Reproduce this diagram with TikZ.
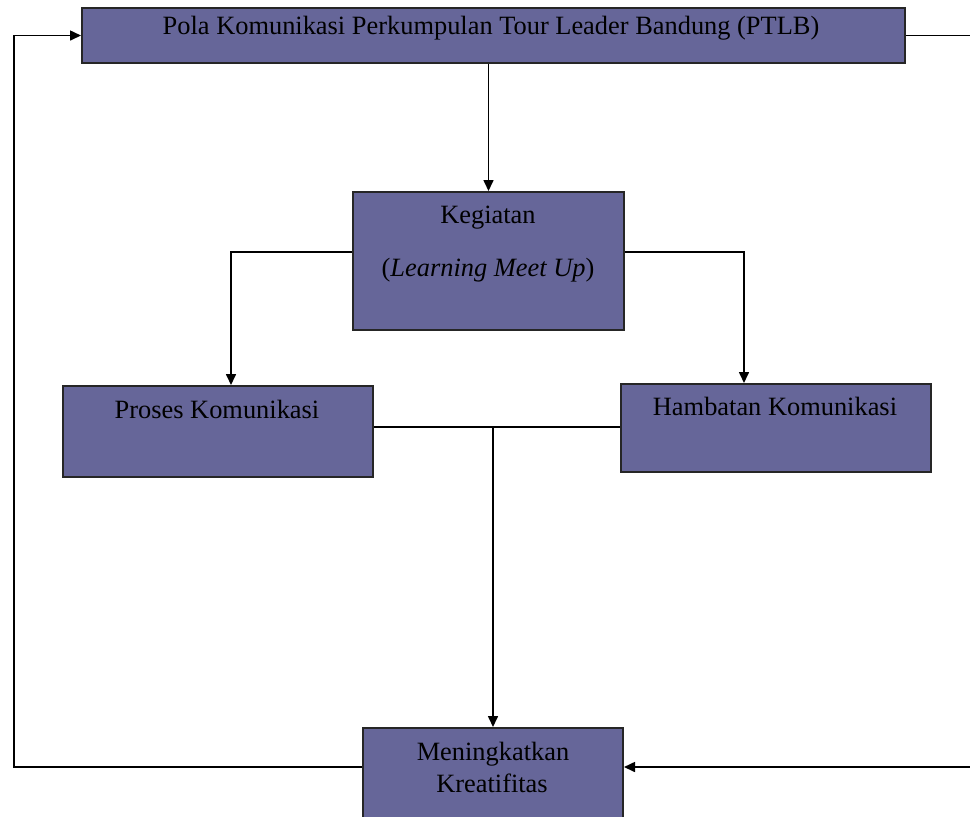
\documentclass[tikz,border=0pt]{standalone}
\usepackage{fontspec}
\setmainfont{Liberation Serif}
\usepackage{xcolor}
\usetikzlibrary{positioning,calc,fit,arrows.meta}

\definecolor{boxfill}{RGB}{102,102,153}

\tikzset{
    box/.style={draw=black!85, fill=boxfill, line width=1pt, inner sep=0pt},
    boxtext/.style={font=\fontsize{13.2}{16}\selectfont, anchor=base},
    arr/.style={-{Triangle[length=5.5pt,width=5pt]}, line width=0.8pt},
    link/.style={line width=0.8pt}
}

\begin{document}
\begin{tikzpicture}[x=0.5pt,y=-0.5pt]
    \useasboundingbox (0,0) rectangle (970,816);

    % boxes
    \node[box, fit={(82,8) (905,63)}] (top) {};
    \node[box, fit={(353,192) (624,330)}] (keg) {};
    \node[box, fit={(63,386) (373,477)}] (proses) {};
    \node[box, fit={(621,384) (931,472)}] (ham) {};
    \node[box, fit={(363,728) (623,830)}] (mening) {};

    % texts
    \node[boxtext] (toptxt) at (491,34) {Pola Komunikasi Perkumpulan Tour Leader Bandung (PTLB)};
    \node[boxtext] (kegtxt) at (488,223) {Kegiatan};
    \node[boxtext] (kegsub) at (488,276) {(\textit{Learning Meet Up})};
    \node[boxtext] (prosestxt) at (217,418) {Proses Komunikasi};
    \node[boxtext] (hamtxt) at (775,415) {Hambatan Komunikasi};
    \node[boxtext] (meningtxt) at (493,760) {Meningkatkan};
    \node[boxtext] (kreatxt) at (492,792) {Kreatifitas};

    % helper points
    \coordinate (lft) at (14,400);
    \coordinate (rgt) at (975,400);
    \coordinate (kw) at ($(keg.west)+(0,-9)$);
    \coordinate (ke) at ($(keg.east)+(0,-9)$);
    \coordinate (pe) at ($(proses.east)+(0,-4.5)$);
    \coordinate (mw) at ($(mening.west)+(0,-12)$);
    \coordinate (me) at ($(mening.east)+(0,-12)$);

    % connectors
    \draw[arr] (top.south -| keg.north) -- (keg.north);
    \draw[arr] (kw) -| ([xshift=6.5pt]proses.north);
    \draw[arr] (ke) -| ([xshift=-16pt]ham.north);
    \draw[link] (pe) -- (pe -| ham.west);
    \draw[arr] (pe -| mening.north) -- (mening.north);
    \draw[arr] (mw) -| (lft) |- (top.west);
    \draw[arr] (top.east) -- (top.east -| rgt) |- (me);
\end{tikzpicture}
\end{document}
